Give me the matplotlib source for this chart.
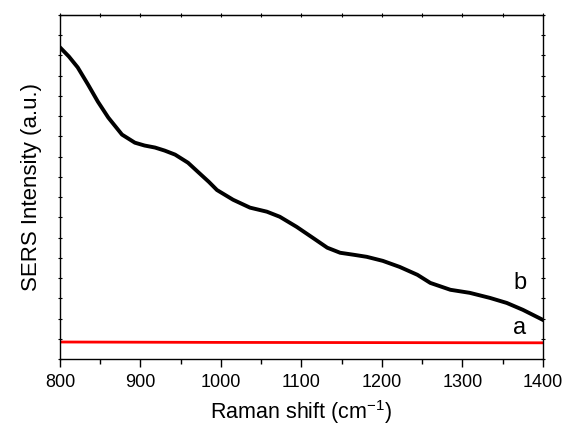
import matplotlib
matplotlib.use("Agg")
import matplotlib.pyplot as plt
from matplotlib.ticker import MultipleLocator, NullFormatter

plt.rcParams['font.family'] = ['Liberation Sans', 'DejaVu Sans']
plt.rcParams['mathtext.fontset'] = 'custom'
plt.rcParams['mathtext.rm'] = 'Liberation Sans'
plt.rcParams['mathtext.it'] = 'Liberation Sans:italic'
plt.rcParams['mathtext.bf'] = 'Liberation Sans:bold'

# Curve b (SERS spectrum) (arbitrary units)
shift_b = [800, 811, 822, 835, 847, 860, 877, 893, 905, 918, 930, 943, 959,
           971, 985, 995, 1015, 1036, 1057, 1073, 1094, 1114, 1132, 1148,
           1165, 1181, 1201, 1222, 1244, 1260, 1285, 1309, 1334, 1355, 1375,
           1400]
intensity_b = [15.40, 14.95, 14.41, 13.55, 12.72, 11.93, 11.09, 10.69, 10.55,
               10.45, 10.30, 10.10, 9.70, 9.26, 8.75, 8.35, 7.87, 7.48, 7.28,
               7.03, 6.53, 5.99, 5.50, 5.25, 5.15, 5.05, 4.85, 4.55, 4.16,
               3.76, 3.42, 3.27, 3.02, 2.77, 2.43, 1.93]

# Curve a (flat baseline)
shift_a = [800, 1000, 1200, 1400]
intensity_a = [0.84, 0.82, 0.81, 0.80]

x_ticks = [800, 900, 1000, 1100, 1200, 1300, 1400]
x_tick_labels = ['800', '900', '1000', '1100', '1200', '1300', '1400']

fig = plt.figure(figsize=(5.64, 4.28), dpi=100)
ax = fig.add_axes([60/564, 1 - 359/428, (543-60)/564, (359-15)/428])

ax.plot(shift_a, intensity_a, color='#ff0000', lw=2.0)
ax.plot(shift_b, intensity_b, color='black', lw=2.8, solid_joinstyle='round')

ax.set_xlim(800, 1400)
ax.set_ylim(0, 17)
ax.set_xticks(x_ticks)
ax.set_xticklabels(x_tick_labels)
ax.xaxis.set_minor_locator(MultipleLocator(50))
ax.yaxis.set_major_locator(MultipleLocator(1))
ax.yaxis.set_major_formatter(NullFormatter())

for s in ax.spines.values():
    s.set_linewidth(1.0)

ax.tick_params(axis='x', which='major', direction='out', length=6, width=1.0,
               labelsize=13, pad=5, top=False)
ax.tick_params(axis='x', which='minor', direction='out', length=3.5, width=1.0, top=False)
ax.tick_params(axis='y', which='major', direction='inout', length=3.5, width=0.8,
               left=True, right=True, labelleft=False)

# tiny top ticks every 50
top = ax.secondary_xaxis('top')
top.set_xticks([800 + 50*i for i in range(13)])
top.tick_params(direction='inout', length=3, width=0.8, labeltop=False)
top.set_xticklabels([])

ax.set_xlabel('Raman shift (cm$^{-1}$)', fontsize=15.5, labelpad=5)
ax.set_ylabel('SERS Intensity (a.u.)', fontsize=16, labelpad=11)

ax.text(1372, 3.75, 'b', fontsize=17, ha='center', va='center')
ax.text(1371, 1.55, 'a', fontsize=17, ha='center', va='center')

fig.savefig('out.png', dpi=100)
